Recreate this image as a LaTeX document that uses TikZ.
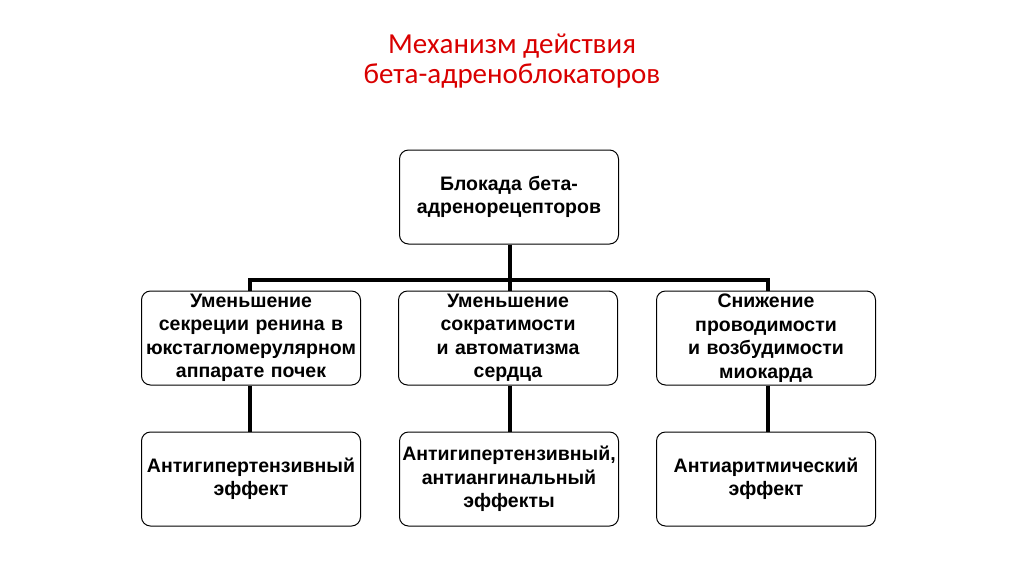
\documentclass[tikz,border=0pt]{standalone}
\usepackage{fontspec}
\setmainfont{Liberation Sans}
\newfontfamily\titlefont{Carlito}
\begin{document}
\begin{tikzpicture}[x=1pt,y=-1pt,
  box/.style={draw,rounded corners=9pt,line width=1pt,minimum width=219pt,minimum height=94pt,text width=217pt,align=center,font=\bfseries\fontsize{19.5}{23.5}\selectfont,inner sep=1pt},
  conn/.style={line width=3.5pt}]
\useasboundingbox (0,0) rectangle (1024,574);
\node[font=\titlefont\fontsize{29}{30}\selectfont,text=red!85!black,align=center] (t) at (512,61) {Механизм действия\\бета-адреноблокаторов};
\node[box] (top) at (509,197) {Блокада бета-\\адренорецепторов};
\node[box] (m1) at (251,338) {Уменьшение\\секреции ренина в\\юкстагломерулярном\\аппарате почек};
\node[box] (m2) at (508,338) {Уменьшение\\сократимости\\и автоматизма\\сердца};
\node[box] (m3) at (766,338) {Снижение\\проводимости\\и возбудимости\\миокарда};
\node[box] (b1) at (251,479) {Антигипертензивный\\эффект};
\node[box] (b2) at (509,479) {Антигипертензивный,\\антиангинальный\\эффекты};
\node[box] (b3) at (766,479) {Антиаритмический\\эффект};
\coordinate (j) at (510,280);
\coordinate (jl) at (250,280);
\coordinate (jr) at (768,280);
\draw[conn] (top.south -| j) -- (j);
\draw[conn] ([xshift=-1.75pt]jl) -- ([xshift=1.75pt]jr);
\draw[conn] (jl) -- (jl |- m1.north);
\draw[conn] (j) -- (j |- m2.north);
\draw[conn] (jr) -- (jr |- m3.north);
\draw[conn] (m1.south -| jl) -- (jl |- b1.north);
\draw[conn] (m2.south -| j) -- (j |- b2.north);
\draw[conn] (m3.south -| jr) -- (jr |- b3.north);
\end{tikzpicture}
\end{document}
